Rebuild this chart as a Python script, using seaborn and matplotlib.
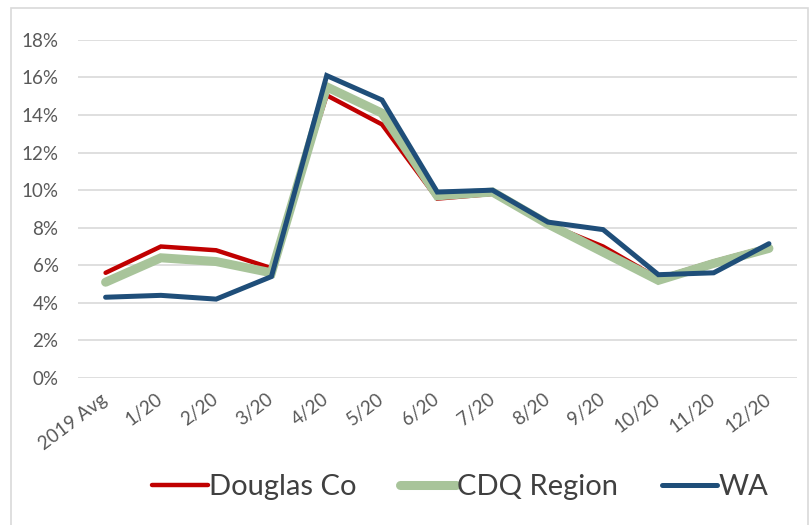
import matplotlib
matplotlib.use("Agg")
import matplotlib.pyplot as plt
from matplotlib.patches import Rectangle
from matplotlib.lines import Line2D
import seaborn as sns
import pandas as pd

months = ["2019 Avg", "1/20", "2/20", "3/20", "4/20", "5/20", "6/20",
          "7/20", "8/20", "9/20", "10/20", "11/20", "12/20"]
douglas_co = [5.6, 7.0, 6.8, 5.85, 15.05, 13.5, 9.55, 9.8, 8.2, 7.0, 5.3, 6.2, 7.0]
cdq_region = [5.1, 6.4, 6.2, 5.6, 15.5, 14.1, 9.7, 9.9, 8.2, 6.7, 5.2, 6.1, 6.9]
wa = [4.3, 4.4, 4.2, 5.4, 16.1, 14.8, 9.9, 10.0, 8.3, 7.9, 5.5, 5.6, 7.15]
y_ticks = [0, 2, 4, 6, 8, 10, 12, 14, 16, 18]

series = ["Douglas Co", "CDQ Region", "WA"]
colors = {"Douglas Co": "#C00000", "CDQ Region": "#A8C49A", "WA": "#1F4E79"}
widths = {"Douglas Co": 3.2, "CDQ Region": 6.5, "WA": 3.6}

df = pd.DataFrame({
    "month": months * 3,
    "x": list(range(len(months))) * 3,
    "rate": douglas_co + cdq_region + wa,
    "series": [s for s in series for _ in months],
})

sns.set_theme(style="white")
plt.rcParams["font.family"] = ["Lato", "DejaVu Sans"]

fig = plt.figure(figsize=(8.12, 5.25), dpi=100)
ax = fig.add_axes([0.096, 0.28, 0.885, 0.644])

for s in series:
    sub = df[df["series"] == s]
    sns.lineplot(data=sub, x="x", y="rate", ax=ax, color=colors[s],
                 linewidth=widths[s], solid_joinstyle="miter", legend=False)

ax.set_xlim(-0.5, len(months) - 0.5)
ax.set_ylim(0, 18)
ax.set_yticks(y_ticks)
ax.set_yticklabels([f"{t}%" for t in y_ticks], fontsize=13.5, color="#595959")
ax.set_xticks(range(len(months)))
ax.set_xticklabels(months, rotation=37, ha="right", va="center",
                   rotation_mode="anchor", fontsize=13.5, color="#595959")
ax.tick_params(axis="y", pad=14, length=0)
ax.tick_params(axis="x", pad=14, length=0)
ax.yaxis.grid(True, color="#D9D9D9", linewidth=1.2)
ax.set_axisbelow(True)
for sp in ax.spines.values():
    sp.set_visible(False)
ax.set_xlabel("")
ax.set_ylabel("")

handles = [Line2D([0], [0], color=colors[s], linewidth=widths[s]) for s in series]
fig.legend(handles, series, loc="center", bbox_to_anchor=(0.567, 0.072),
           ncol=3, frameon=False, fontsize=21, handlelength=1.9,
           handletextpad=0.05, columnspacing=1.5, labelcolor="#404040")

fig.patches.append(Rectangle((11 / 812, -0.01), 797 / 812, 1 - 8 / 525 + 0.01,
                             transform=fig.transFigure, fill=False,
                             edgecolor="#D9D9D9", linewidth=1.2))

fig.savefig("out.png", dpi=100, facecolor="white")
